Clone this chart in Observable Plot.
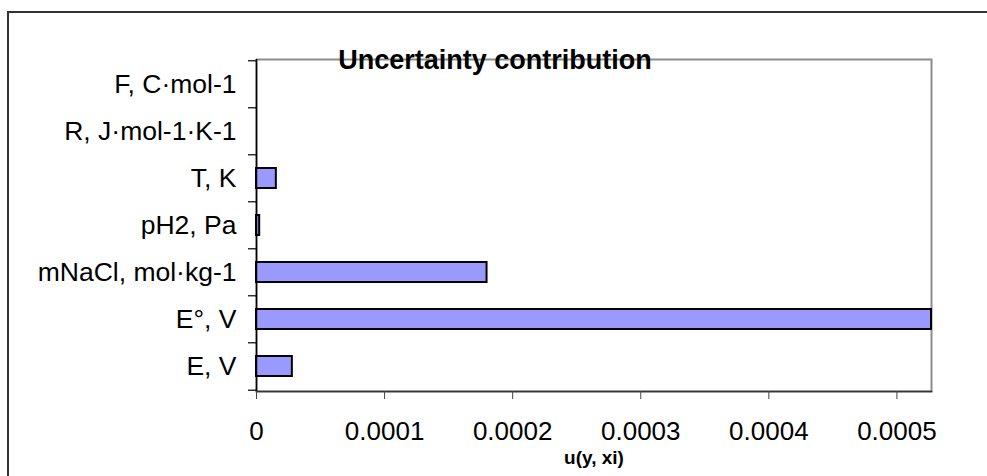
<!DOCTYPE html>
<html>
<head>
<meta charset="utf-8">
<script src="https://cdn.jsdelivr.net/npm/d3@7"></script>
<script src="https://cdn.jsdelivr.net/npm/@observablehq/plot@0.6"></script>
<style>
  html, body { margin: 0; padding: 0; background: #fff; width: 987px; height: 476px; overflow: hidden; }
  #wrap { position: relative; width: 987px; height: 476px; overflow: hidden; }
  #bTop { position: absolute; left: 7px; top: 11px; width: 980px; height: 2px; background: #333; }
  #bLeft { position: absolute; left: 7px; top: 11px; width: 2px; height: 465px; background: #333; }
  #chart { position: absolute; left: 0; top: 0; }
</style>
</head>
<body>
<div id="wrap"><div id="bTop"></div><div id="bLeft"></div><div id="chart"></div></div>
<script>
const title = "Uncertainty contribution";
const xLabel = "u(y, xi)";
const categories = ["F, C·mol-1", "R, J·mol-1·K-1", "T, K", "pH2, Pa", "mNaCl, mol·kg-1", "E°, V", "E, V"];
const values = [0, 0, 0.0000155, 0.0000025, 0.00018, 0.000527, 0.000028];
const xTicks = [0, 0.0001, 0.0002, 0.0003, 0.0004, 0.0005];
const xMax = 0.000527;

const data = categories.map((name, i) => ({name, value: values[i]}));

const W = 987, H = 476;
const mL = 256, mR = 56, mT = 59, mB = 85;
const step = (H - mT - mB) / categories.length;

const chart = Plot.plot({
  width: W, height: H,
  marginLeft: mL, marginRight: mR, marginTop: mT, marginBottom: mB,
  style: {fontFamily: "'Liberation Sans', Arial, sans-serif", color: "black", background: "transparent"},
  x: {domain: [0, xMax]},
  y: {domain: categories, paddingInner: 0.58, paddingOuter: 0.29},
  marks: [
    Plot.frame({stroke: "#8c8c8c", strokeWidth: 2}),
    Plot.barX(data.filter(d => d.value > 0), {x: "value", y: "name", fill: "#9999FF", stroke: "black", strokeWidth: 2}),
    Plot.ruleX([0], {stroke: "black", strokeWidth: 1.5}),
    Plot.frame({anchor: "bottom", stroke: "#333", strokeWidth: 1.5}),
    Plot.ruleY(categories, {y: d => d, x1: 0, x2: 0, insetLeft: -8, dy: -step / 2, stroke: "black", strokeWidth: 1.2}),
    Plot.ruleY(categories.slice(-1), {y: d => d, x1: 0, x2: 0, insetLeft: -8, dy: step / 2, stroke: "black", strokeWidth: 1.2}),
    Plot.axisY({tickSize: 0, tickPadding: 20, fontSize: 26.5, label: null}),
    Plot.axisX({ticks: xTicks, tickSize: 8, tickPadding: 22, fontSize: 26, label: null,
                stroke: "#444", tickFormat: d => d === 0 ? "0" : d.toFixed(4)}),
    Plot.text([title], {frameAnchor: "top", dx: -99, dy: -9.6, fontSize: 27, fontWeight: "bold", text: d => d}),
    Plot.text([xLabel], {frameAnchor: "bottom", dy: 72, fontSize: 19, fontWeight: "bold", text: d => d})
  ]
});
document.getElementById("chart").appendChild(chart);
</script>
</body>
</html>
